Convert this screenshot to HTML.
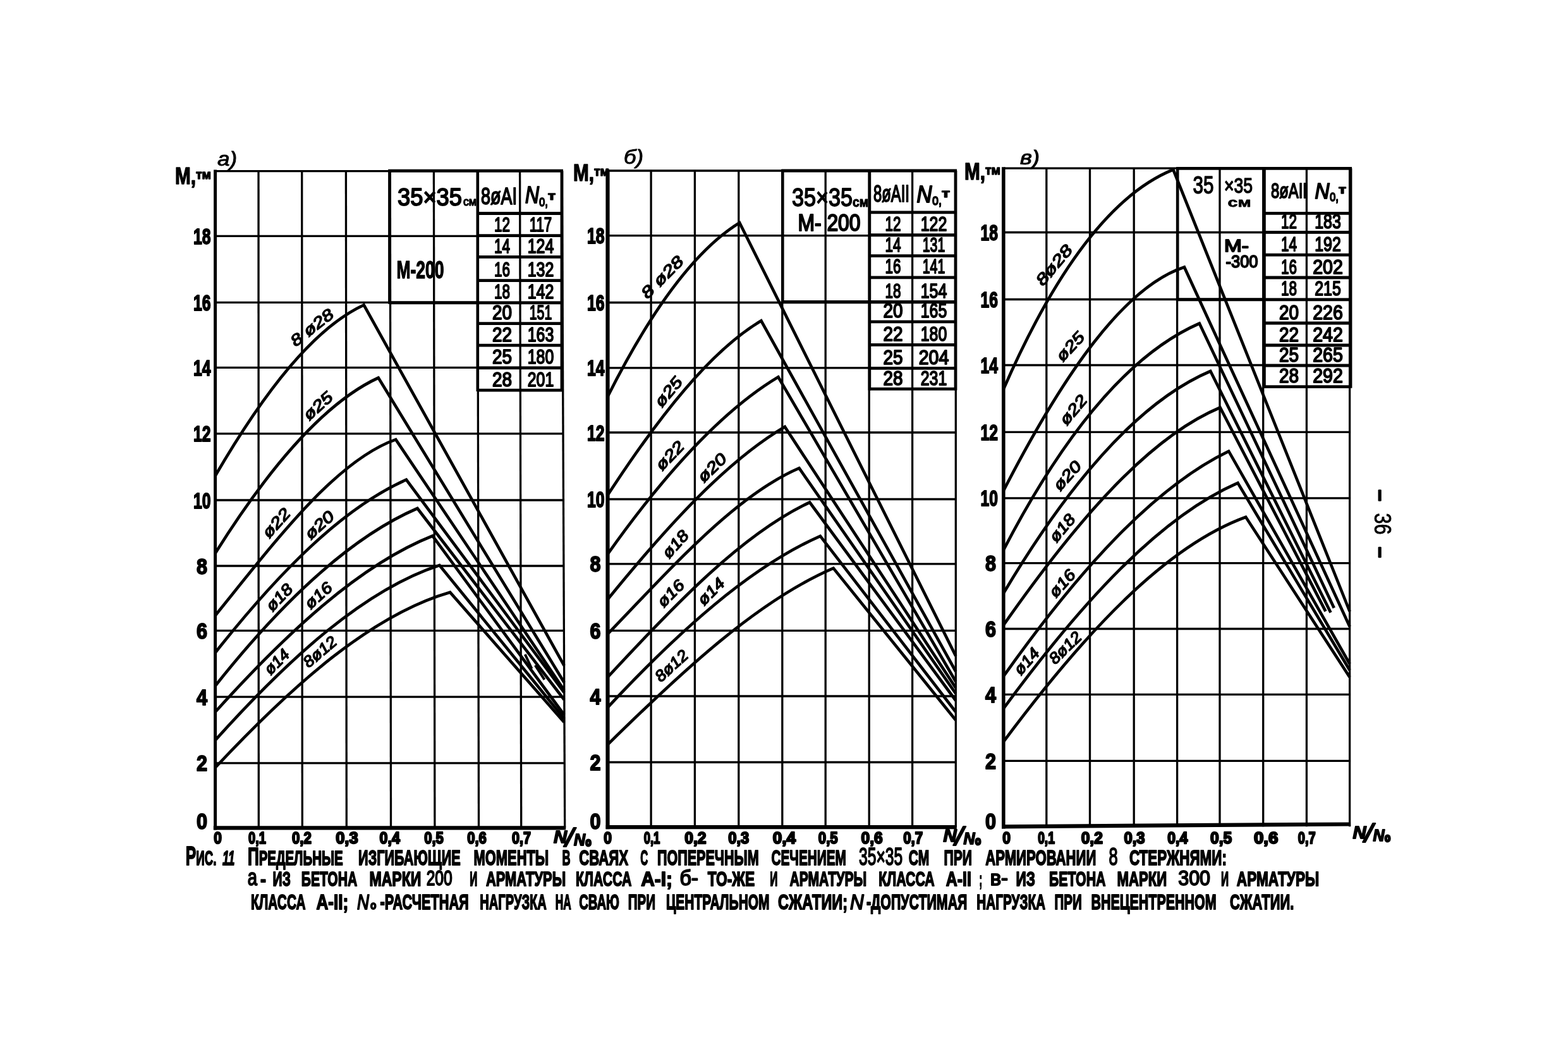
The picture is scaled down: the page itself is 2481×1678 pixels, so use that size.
<!DOCTYPE html>
<html lang="ru">
<head>
<meta charset="utf-8">
<title>Рис. 11 Предельные изгибающие моменты в сваях</title>
<style>
html,body{margin:0;padding:0;background:#fff;}
body{width:2481px;height:1678px;overflow:hidden;font-family:"Liberation Sans", "DejaVu Sans", sans-serif;}
svg{display:block;}
text{white-space:pre;}
</style>
</head>
<body>
<svg width="2481" height="1678" viewBox="0 0 2481 1678">
<g stroke="#000" fill="none">
<line x1="409.0" y1="269.6" x2="409.3" y2="1309.3" stroke-width="3.3" stroke-linecap="butt"/>
<line x1="477.7" y1="269.6" x2="478.3" y2="1309.3" stroke-width="3.3" stroke-linecap="butt"/>
<line x1="547.4" y1="269.6" x2="548.3" y2="1309.3" stroke-width="3.3" stroke-linecap="butt"/>
<line x1="617.3" y1="269.6" x2="618.5" y2="1309.3" stroke-width="3.3" stroke-linecap="butt"/>
<line x1="686.4" y1="269.6" x2="687.9" y2="1309.3" stroke-width="3.3" stroke-linecap="butt"/>
<line x1="755.7" y1="269.6" x2="757.5" y2="1309.3" stroke-width="3.3" stroke-linecap="butt"/>
<line x1="822.6" y1="269.6" x2="824.7" y2="1309.3" stroke-width="3.3" stroke-linecap="butt"/>
<line x1="889.2" y1="269.6" x2="893.7" y2="1309.3" stroke-width="3.3" stroke-linecap="butt"/>
<line x1="340.6" y1="1206.9" x2="893.3" y2="1206.9" stroke-width="3.3" stroke-linecap="butt"/>
<line x1="340.6" y1="1102.2" x2="892.8" y2="1102.2" stroke-width="3.3" stroke-linecap="butt"/>
<line x1="340.6" y1="997.3" x2="892.3" y2="997.3" stroke-width="3.3" stroke-linecap="butt"/>
<line x1="340.6" y1="895.0" x2="891.9" y2="895.0" stroke-width="3.3" stroke-linecap="butt"/>
<line x1="340.6" y1="791.0" x2="891.5" y2="791.0" stroke-width="3.3" stroke-linecap="butt"/>
<line x1="340.6" y1="685.8" x2="891.0" y2="685.8" stroke-width="3.3" stroke-linecap="butt"/>
<line x1="340.6" y1="581.4" x2="890.5" y2="581.4" stroke-width="3.3" stroke-linecap="butt"/>
<line x1="340.6" y1="478.3" x2="890.1" y2="478.3" stroke-width="3.3" stroke-linecap="butt"/>
<line x1="340.6" y1="373.3" x2="889.6" y2="373.3" stroke-width="3.3" stroke-linecap="butt"/>
<line x1="340.6" y1="270.6" x2="889.2" y2="270.6" stroke-width="3.3" stroke-linecap="butt"/>
<line x1="340.6" y1="268.6" x2="340.6" y2="1312.4" stroke-width="5.0" stroke-linecap="butt"/>
<line x1="337.8" y1="1309.3" x2="895.2" y2="1309.3" stroke-width="6.2" stroke-linecap="butt"/>
<path d="M340.6 752.5 C419.0 618.0 497.3 518.4 575.7 482.3 L892.6 1052.7" stroke-width="4.7" stroke-linejoin="miter" stroke-miterlimit="10"/>
<path d="M340.6 875.0 C426.6 737.9 512.7 637.1 598.7 597.5 L892.6 1079.3" stroke-width="4.7" stroke-linejoin="miter" stroke-miterlimit="10"/>
<path d="M340.6 973.4 C435.8 855.8 531.0 728.6 626.2 695.1 L892.6 1091.5" stroke-width="4.7" stroke-linejoin="miter" stroke-miterlimit="10"/>
<path d="M340.6 1032.2 C441.4 904.7 542.1 803.3 642.9 758.7 L892.6 1095.0" stroke-width="4.7" stroke-linejoin="miter" stroke-miterlimit="10"/>
<path d="M340.6 1084.7 C447.2 950.3 553.8 849.9 660.4 804.0 L892.6 1106.5" stroke-width="4.7" stroke-linejoin="miter" stroke-miterlimit="10"/>
<path d="M340.6 1126.0 C455.2 999.1 569.9 892.9 684.5 847.5 L892.6 1130.5" stroke-width="4.7" stroke-linejoin="miter" stroke-miterlimit="10"/>
<path d="M340.6 1170.6 C458.9 1039.3 577.1 932.5 695.4 893.9 L892.6 1136.6" stroke-width="4.7" stroke-linejoin="miter" stroke-miterlimit="10"/>
<path d="M340.6 1214.0 C464.4 1081.9 588.3 972.4 712.1 936.7 L892.6 1142.3" stroke-width="4.7" stroke-linejoin="miter" stroke-miterlimit="10"/>
<line x1="616.4" y1="268.2" x2="616.4" y2="480.8" stroke-width="4.6" stroke-linecap="butt"/>
<line x1="616.4" y1="478.8" x2="755.8" y2="478.8" stroke-width="5" stroke-linecap="butt"/>
<line x1="614.4" y1="270.2" x2="891.0" y2="270.2" stroke-width="4.8" stroke-linecap="butt"/>
<line x1="755.8" y1="270.2" x2="755.8" y2="619.1" stroke-width="4.6" stroke-linecap="butt"/>
<line x1="889.0" y1="270.2" x2="889.0" y2="619.1" stroke-width="4.8" stroke-linecap="butt"/>
<line x1="755.8" y1="337.5" x2="889.0" y2="337.5" stroke-width="4.8" stroke-linecap="butt"/>
<line x1="755.8" y1="372.7" x2="889.0" y2="372.7" stroke-width="4.8" stroke-linecap="butt"/>
<line x1="755.8" y1="406.3" x2="889.0" y2="406.3" stroke-width="4.8" stroke-linecap="butt"/>
<line x1="755.8" y1="443.6" x2="889.0" y2="443.6" stroke-width="4.8" stroke-linecap="butt"/>
<line x1="755.8" y1="478.8" x2="889.0" y2="478.8" stroke-width="4.8" stroke-linecap="butt"/>
<line x1="755.8" y1="511.7" x2="889.0" y2="511.7" stroke-width="4.8" stroke-linecap="butt"/>
<line x1="755.8" y1="546.1" x2="889.0" y2="546.1" stroke-width="4.8" stroke-linecap="butt"/>
<line x1="755.8" y1="581.9" x2="889.0" y2="581.9" stroke-width="4.8" stroke-linecap="butt"/>
<line x1="755.8" y1="617.1" x2="889.0" y2="617.1" stroke-width="4.8" stroke-linecap="butt"/>
<line x1="830.8" y1="1034.8" x2="841.4" y2="1057.5" stroke-width="4" stroke-linecap="butt"/>
<line x1="846.8" y1="1052.2" x2="861.5" y2="1074.9" stroke-width="4" stroke-linecap="butt"/>
<line x1="1030.1" y1="269.0" x2="1030.1" y2="1308.2" stroke-width="3.3" stroke-linecap="butt"/>
<line x1="1099.4" y1="269.0" x2="1099.4" y2="1308.2" stroke-width="3.3" stroke-linecap="butt"/>
<line x1="1168.8" y1="269.0" x2="1168.8" y2="1308.2" stroke-width="3.3" stroke-linecap="butt"/>
<line x1="1237.8" y1="269.0" x2="1237.8" y2="1308.2" stroke-width="3.3" stroke-linecap="butt"/>
<line x1="1306.2" y1="269.0" x2="1306.2" y2="1308.2" stroke-width="3.3" stroke-linecap="butt"/>
<line x1="1375.2" y1="269.0" x2="1375.2" y2="1308.2" stroke-width="3.3" stroke-linecap="butt"/>
<line x1="1443.6" y1="269.0" x2="1443.6" y2="1308.2" stroke-width="3.3" stroke-linecap="butt"/>
<line x1="1512.3" y1="269.0" x2="1512.3" y2="1308.2" stroke-width="3.3" stroke-linecap="butt"/>
<line x1="961.5" y1="1205.5" x2="1512.3" y2="1205.5" stroke-width="3.3" stroke-linecap="butt"/>
<line x1="961.5" y1="1101.0" x2="1512.3" y2="1101.0" stroke-width="3.3" stroke-linecap="butt"/>
<line x1="961.5" y1="997.4" x2="1512.3" y2="997.4" stroke-width="3.3" stroke-linecap="butt"/>
<line x1="961.5" y1="891.8" x2="1512.3" y2="891.8" stroke-width="3.3" stroke-linecap="butt"/>
<line x1="961.5" y1="789.5" x2="1512.3" y2="789.5" stroke-width="3.3" stroke-linecap="butt"/>
<line x1="961.5" y1="684.0" x2="1512.3" y2="684.0" stroke-width="3.3" stroke-linecap="butt"/>
<line x1="961.5" y1="581.8" x2="1512.3" y2="581.8" stroke-width="3.3" stroke-linecap="butt"/>
<line x1="961.5" y1="478.5" x2="1512.3" y2="478.5" stroke-width="3.3" stroke-linecap="butt"/>
<line x1="961.5" y1="372.6" x2="1512.3" y2="372.6" stroke-width="3.3" stroke-linecap="butt"/>
<line x1="961.5" y1="270.0" x2="1512.3" y2="270.0" stroke-width="3.3" stroke-linecap="butt"/>
<line x1="961.5" y1="268.0" x2="961.5" y2="1311.3" stroke-width="6.2" stroke-linecap="butt"/>
<line x1="958.7" y1="1308.2" x2="1513.8" y2="1308.2" stroke-width="6.2" stroke-linecap="butt"/>
<path d="M961.5 627.2 C1031.1 488.7 1100.6 395.1 1170.2 352.3 L1512.3 1037.5" stroke-width="4.7" stroke-linejoin="miter" stroke-miterlimit="10"/>
<path d="M961.5 783.0 C1042.5 659.0 1123.4 555.5 1204.4 507.3 L1512.3 1062.0" stroke-width="4.7" stroke-linejoin="miter" stroke-miterlimit="10"/>
<path d="M961.5 876.3 C1051.5 749.3 1141.4 650.1 1231.4 596.2 L1512.3 1078.0" stroke-width="4.7" stroke-linejoin="miter" stroke-miterlimit="10"/>
<path d="M961.5 947.9 C1054.9 833.2 1148.4 730.1 1241.8 675.0 L1512.3 1088.0" stroke-width="4.7" stroke-linejoin="miter" stroke-miterlimit="10"/>
<path d="M961.5 1002.7 C1062.5 897.9 1163.5 783.7 1264.5 740.4 L1512.3 1097.0" stroke-width="4.7" stroke-linejoin="miter" stroke-miterlimit="10"/>
<path d="M961.5 1071.0 C1068.1 955.9 1174.6 844.4 1281.2 794.5 L1512.3 1108.0" stroke-width="4.7" stroke-linejoin="miter" stroke-miterlimit="10"/>
<path d="M961.5 1118.8 C1073.6 998.8 1185.8 897.6 1297.9 847.8 L1512.3 1126.0" stroke-width="4.7" stroke-linejoin="miter" stroke-miterlimit="10"/>
<path d="M961.5 1177.6 C1080.5 1060.5 1199.6 949.8 1318.6 898.6 L1512.3 1139.0" stroke-width="4.7" stroke-linejoin="miter" stroke-miterlimit="10"/>
<line x1="1238.3" y1="268.0" x2="1238.3" y2="479.6" stroke-width="4.6" stroke-linecap="butt"/>
<line x1="1238.3" y1="477.6" x2="1375.9" y2="477.6" stroke-width="5" stroke-linecap="butt"/>
<line x1="1236.3" y1="270.0" x2="1514.0" y2="270.0" stroke-width="4.8" stroke-linecap="butt"/>
<line x1="1375.9" y1="270.0" x2="1375.9" y2="617.2" stroke-width="4.6" stroke-linecap="butt"/>
<line x1="1512.0" y1="270.0" x2="1512.0" y2="617.2" stroke-width="4.8" stroke-linecap="butt"/>
<line x1="1375.9" y1="335.8" x2="1512.0" y2="335.8" stroke-width="4.8" stroke-linecap="butt"/>
<line x1="1375.9" y1="371.7" x2="1512.0" y2="371.7" stroke-width="4.8" stroke-linecap="butt"/>
<line x1="1375.9" y1="404.6" x2="1512.0" y2="404.6" stroke-width="4.8" stroke-linecap="butt"/>
<line x1="1375.9" y1="438.9" x2="1512.0" y2="438.9" stroke-width="4.8" stroke-linecap="butt"/>
<line x1="1375.9" y1="477.4" x2="1512.0" y2="477.4" stroke-width="4.8" stroke-linecap="butt"/>
<line x1="1375.9" y1="508.9" x2="1512.0" y2="508.9" stroke-width="4.8" stroke-linecap="butt"/>
<line x1="1375.9" y1="545.3" x2="1512.0" y2="545.3" stroke-width="4.8" stroke-linecap="butt"/>
<line x1="1375.9" y1="582.4" x2="1512.0" y2="582.4" stroke-width="4.8" stroke-linecap="butt"/>
<line x1="1375.9" y1="615.2" x2="1512.0" y2="615.2" stroke-width="4.8" stroke-linecap="butt"/>
<line x1="1655.8" y1="265.2" x2="1655.8" y2="1307.3" stroke-width="3.3" stroke-linecap="butt"/>
<line x1="1724.5" y1="265.2" x2="1724.5" y2="1307.3" stroke-width="3.3" stroke-linecap="butt"/>
<line x1="1794.2" y1="265.2" x2="1794.2" y2="1307.3" stroke-width="3.3" stroke-linecap="butt"/>
<line x1="1862.6" y1="265.2" x2="1862.6" y2="1307.3" stroke-width="3.3" stroke-linecap="butt"/>
<line x1="1930.0" y1="265.2" x2="1930.0" y2="1307.3" stroke-width="3.3" stroke-linecap="butt"/>
<line x1="1998.7" y1="265.2" x2="1998.7" y2="1307.3" stroke-width="3.3" stroke-linecap="butt"/>
<line x1="2067.4" y1="265.2" x2="2067.4" y2="1307.3" stroke-width="3.3" stroke-linecap="butt"/>
<line x1="2135.6" y1="265.2" x2="2135.6" y2="1307.3" stroke-width="3.3" stroke-linecap="butt"/>
<line x1="1587.8" y1="1203.3" x2="2135.6" y2="1203.3" stroke-width="3.3" stroke-linecap="butt"/>
<line x1="1587.8" y1="1098.3" x2="2135.6" y2="1098.3" stroke-width="3.3" stroke-linecap="butt"/>
<line x1="1587.8" y1="994.5" x2="2135.6" y2="994.5" stroke-width="3.3" stroke-linecap="butt"/>
<line x1="1587.8" y1="890.7" x2="2135.6" y2="890.7" stroke-width="3.3" stroke-linecap="butt"/>
<line x1="1587.8" y1="787.8" x2="2135.6" y2="787.8" stroke-width="3.3" stroke-linecap="butt"/>
<line x1="1587.8" y1="683.4" x2="2135.6" y2="683.4" stroke-width="3.3" stroke-linecap="butt"/>
<line x1="1587.8" y1="577.5" x2="2135.6" y2="577.5" stroke-width="3.3" stroke-linecap="butt"/>
<line x1="1587.8" y1="473.5" x2="2135.6" y2="473.5" stroke-width="3.3" stroke-linecap="butt"/>
<line x1="1587.8" y1="367.5" x2="2135.6" y2="367.5" stroke-width="3.3" stroke-linecap="butt"/>
<line x1="1587.8" y1="266.2" x2="2135.6" y2="266.2" stroke-width="3.3" stroke-linecap="butt"/>
<line x1="1587.8" y1="264.2" x2="1587.8" y2="1310.4" stroke-width="5.6" stroke-linecap="butt"/>
<line x1="1585.0" y1="1307.3" x2="2137.1" y2="1303.5" stroke-width="6.2" stroke-linecap="butt"/>
<path d="M1587.8 615.6 C1677.3 410.4 1766.9 304.3 1856.4 268.3 L2135.6 967.0" stroke-width="4.7" stroke-linejoin="miter" stroke-miterlimit="10"/>
<path d="M1587.8 776.1 C1683.2 590.9 1778.5 453.7 1873.9 422.5 L2135.6 991.0" stroke-width="4.7" stroke-linejoin="miter" stroke-miterlimit="10"/>
<path d="M1587.8 869.9 C1691.1 670.8 1794.5 556.5 1897.8 511.5 L2110.8 961.5" stroke-width="4.7" stroke-linejoin="miter" stroke-miterlimit="10"/>
<path d="M1587.8 938.3 C1697.0 754.5 1806.1 633.3 1915.3 587.0 L2105.5 968.8" stroke-width="4.7" stroke-linejoin="miter" stroke-miterlimit="10"/>
<path d="M1587.8 988.6 C1702.1 825.4 1816.3 692.3 1930.6 644.5 L2097.5 966.8" stroke-width="4.7" stroke-linejoin="miter" stroke-miterlimit="10"/>
<path d="M1587.8 1069.7 C1706.6 902.3 1825.4 771.0 1944.2 713.7 L2135.6 1050.0" stroke-width="4.7" stroke-linejoin="miter" stroke-miterlimit="10"/>
<path d="M1587.8 1120.6 C1711.4 952.4 1834.9 817.8 1958.5 763.8 L2135.6 1060.0" stroke-width="4.7" stroke-linejoin="miter" stroke-miterlimit="10"/>
<path d="M1587.8 1173.1 C1715.6 1001.6 1843.4 864.3 1971.2 817.8 L2135.6 1071.0" stroke-width="4.7" stroke-linejoin="miter" stroke-miterlimit="10"/>
<line x1="1863.2" y1="264.3" x2="1863.2" y2="475.7" stroke-width="4.6" stroke-linecap="butt"/>
<line x1="1863.2" y1="473.7" x2="2000.5" y2="473.7" stroke-width="5" stroke-linecap="butt"/>
<line x1="1861.2" y1="266.3" x2="2139.0" y2="266.3" stroke-width="4.8" stroke-linecap="butt"/>
<line x1="2000.5" y1="266.3" x2="2000.5" y2="613.7" stroke-width="4.6" stroke-linecap="butt"/>
<line x1="2137.0" y1="266.3" x2="2137.0" y2="613.7" stroke-width="4.8" stroke-linecap="butt"/>
<line x1="2000.5" y1="337.3" x2="2137.0" y2="337.3" stroke-width="4.8" stroke-linecap="butt"/>
<line x1="2000.5" y1="367.3" x2="2137.0" y2="367.3" stroke-width="4.8" stroke-linecap="butt"/>
<line x1="2000.5" y1="403.2" x2="2137.0" y2="403.2" stroke-width="4.8" stroke-linecap="butt"/>
<line x1="2000.5" y1="439.0" x2="2137.0" y2="439.0" stroke-width="4.8" stroke-linecap="butt"/>
<line x1="2000.5" y1="473.9" x2="2137.0" y2="473.9" stroke-width="4.8" stroke-linecap="butt"/>
<line x1="2000.5" y1="511.0" x2="2137.0" y2="511.0" stroke-width="4.8" stroke-linecap="butt"/>
<line x1="2000.5" y1="546.0" x2="2137.0" y2="546.0" stroke-width="4.8" stroke-linecap="butt"/>
<line x1="2000.5" y1="578.2" x2="2137.0" y2="578.2" stroke-width="4.8" stroke-linecap="butt"/>
<line x1="2000.5" y1="611.7" x2="2137.0" y2="611.7" stroke-width="4.8" stroke-linecap="butt"/>
</g>
<g fill="#000" font-family='"Liberation Sans", "DejaVu Sans", sans-serif'>
<text x="319.5" y="1310.5" font-size="35" font-weight="bold" text-anchor="middle" textLength="17.0" lengthAdjust="spacingAndGlyphs" stroke="#000" stroke-width="2.0" stroke-linejoin="round">0</text>
<text x="319.5" y="1219.4" font-size="35" font-weight="bold" text-anchor="middle" textLength="17.0" lengthAdjust="spacingAndGlyphs" stroke="#000" stroke-width="2.0" stroke-linejoin="round">2</text>
<text x="319.5" y="1114.7" font-size="35" font-weight="bold" text-anchor="middle" textLength="17.0" lengthAdjust="spacingAndGlyphs" stroke="#000" stroke-width="2.0" stroke-linejoin="round">4</text>
<text x="319.5" y="1009.8" font-size="35" font-weight="bold" text-anchor="middle" textLength="17.0" lengthAdjust="spacingAndGlyphs" stroke="#000" stroke-width="2.0" stroke-linejoin="round">6</text>
<text x="319.5" y="907.5" font-size="35" font-weight="bold" text-anchor="middle" textLength="17.0" lengthAdjust="spacingAndGlyphs" stroke="#000" stroke-width="2.0" stroke-linejoin="round">8</text>
<text x="333.5" y="803.5" font-size="35" font-weight="bold" text-anchor="end" textLength="27.5" lengthAdjust="spacingAndGlyphs" stroke="#000" stroke-width="2.0" stroke-linejoin="round">10</text>
<text x="333.5" y="698.3" font-size="35" font-weight="bold" text-anchor="end" textLength="27.5" lengthAdjust="spacingAndGlyphs" stroke="#000" stroke-width="2.0" stroke-linejoin="round">12</text>
<text x="333.5" y="593.9" font-size="35" font-weight="bold" text-anchor="end" textLength="27.5" lengthAdjust="spacingAndGlyphs" stroke="#000" stroke-width="2.0" stroke-linejoin="round">14</text>
<text x="333.5" y="490.8" font-size="35" font-weight="bold" text-anchor="end" textLength="27.5" lengthAdjust="spacingAndGlyphs" stroke="#000" stroke-width="2.0" stroke-linejoin="round">16</text>
<text x="333.5" y="385.8" font-size="35" font-weight="bold" text-anchor="end" textLength="27.5" lengthAdjust="spacingAndGlyphs" stroke="#000" stroke-width="2.0" stroke-linejoin="round">18</text>
<text x="942.0" y="1310.5" font-size="35" font-weight="bold" text-anchor="middle" textLength="17.0" lengthAdjust="spacingAndGlyphs" stroke="#000" stroke-width="2.0" stroke-linejoin="round">0</text>
<text x="942.0" y="1218.0" font-size="35" font-weight="bold" text-anchor="middle" textLength="17.0" lengthAdjust="spacingAndGlyphs" stroke="#000" stroke-width="2.0" stroke-linejoin="round">2</text>
<text x="942.0" y="1113.5" font-size="35" font-weight="bold" text-anchor="middle" textLength="17.0" lengthAdjust="spacingAndGlyphs" stroke="#000" stroke-width="2.0" stroke-linejoin="round">4</text>
<text x="942.0" y="1009.9" font-size="35" font-weight="bold" text-anchor="middle" textLength="17.0" lengthAdjust="spacingAndGlyphs" stroke="#000" stroke-width="2.0" stroke-linejoin="round">6</text>
<text x="942.0" y="904.3" font-size="35" font-weight="bold" text-anchor="middle" textLength="17.0" lengthAdjust="spacingAndGlyphs" stroke="#000" stroke-width="2.0" stroke-linejoin="round">8</text>
<text x="956.5" y="802.0" font-size="35" font-weight="bold" text-anchor="end" textLength="27.5" lengthAdjust="spacingAndGlyphs" stroke="#000" stroke-width="2.0" stroke-linejoin="round">10</text>
<text x="956.5" y="696.5" font-size="35" font-weight="bold" text-anchor="end" textLength="27.5" lengthAdjust="spacingAndGlyphs" stroke="#000" stroke-width="2.0" stroke-linejoin="round">12</text>
<text x="956.5" y="594.3" font-size="35" font-weight="bold" text-anchor="end" textLength="27.5" lengthAdjust="spacingAndGlyphs" stroke="#000" stroke-width="2.0" stroke-linejoin="round">14</text>
<text x="956.5" y="491.0" font-size="35" font-weight="bold" text-anchor="end" textLength="27.5" lengthAdjust="spacingAndGlyphs" stroke="#000" stroke-width="2.0" stroke-linejoin="round">16</text>
<text x="956.5" y="385.1" font-size="35" font-weight="bold" text-anchor="end" textLength="27.5" lengthAdjust="spacingAndGlyphs" stroke="#000" stroke-width="2.0" stroke-linejoin="round">18</text>
<text x="1567.5" y="1310.5" font-size="35" font-weight="bold" text-anchor="middle" textLength="17.0" lengthAdjust="spacingAndGlyphs" stroke="#000" stroke-width="2.0" stroke-linejoin="round">0</text>
<text x="1567.5" y="1215.8" font-size="35" font-weight="bold" text-anchor="middle" textLength="17.0" lengthAdjust="spacingAndGlyphs" stroke="#000" stroke-width="2.0" stroke-linejoin="round">2</text>
<text x="1567.5" y="1110.8" font-size="35" font-weight="bold" text-anchor="middle" textLength="17.0" lengthAdjust="spacingAndGlyphs" stroke="#000" stroke-width="2.0" stroke-linejoin="round">4</text>
<text x="1567.5" y="1007.0" font-size="35" font-weight="bold" text-anchor="middle" textLength="17.0" lengthAdjust="spacingAndGlyphs" stroke="#000" stroke-width="2.0" stroke-linejoin="round">6</text>
<text x="1567.5" y="903.2" font-size="35" font-weight="bold" text-anchor="middle" textLength="17.0" lengthAdjust="spacingAndGlyphs" stroke="#000" stroke-width="2.0" stroke-linejoin="round">8</text>
<text x="1579.0" y="800.3" font-size="35" font-weight="bold" text-anchor="end" textLength="27.5" lengthAdjust="spacingAndGlyphs" stroke="#000" stroke-width="2.0" stroke-linejoin="round">10</text>
<text x="1579.0" y="695.9" font-size="35" font-weight="bold" text-anchor="end" textLength="27.5" lengthAdjust="spacingAndGlyphs" stroke="#000" stroke-width="2.0" stroke-linejoin="round">12</text>
<text x="1579.0" y="590.0" font-size="35" font-weight="bold" text-anchor="end" textLength="27.5" lengthAdjust="spacingAndGlyphs" stroke="#000" stroke-width="2.0" stroke-linejoin="round">14</text>
<text x="1579.0" y="486.0" font-size="35" font-weight="bold" text-anchor="end" textLength="27.5" lengthAdjust="spacingAndGlyphs" stroke="#000" stroke-width="2.0" stroke-linejoin="round">16</text>
<text x="1579.0" y="380.0" font-size="35" font-weight="bold" text-anchor="end" textLength="27.5" lengthAdjust="spacingAndGlyphs" stroke="#000" stroke-width="2.0" stroke-linejoin="round">18</text>
<text x="338.2" y="1334.0" font-size="26" font-weight="bold" textLength="12.6" lengthAdjust="spacingAndGlyphs" stroke="#000" stroke-width="2.4" stroke-linejoin="round">0</text>
<text x="393.1" y="1334.0" font-size="26" font-weight="bold" textLength="27.7" lengthAdjust="spacingAndGlyphs" stroke="#000" stroke-width="2.4" stroke-linejoin="round">0,1</text>
<text x="462.0" y="1334.0" font-size="26" font-weight="bold" textLength="30.8" lengthAdjust="spacingAndGlyphs" stroke="#000" stroke-width="2.4" stroke-linejoin="round">0,2</text>
<text x="531.2" y="1334.0" font-size="26" font-weight="bold" textLength="35.4" lengthAdjust="spacingAndGlyphs" stroke="#000" stroke-width="2.4" stroke-linejoin="round">0,3</text>
<text x="600.6" y="1334.0" font-size="26" font-weight="bold" textLength="32.2" lengthAdjust="spacingAndGlyphs" stroke="#000" stroke-width="2.4" stroke-linejoin="round">0,4</text>
<text x="671.2" y="1334.0" font-size="26" font-weight="bold" textLength="30.6" lengthAdjust="spacingAndGlyphs" stroke="#000" stroke-width="2.4" stroke-linejoin="round">0,5</text>
<text x="739.2" y="1334.0" font-size="26" font-weight="bold" textLength="30.6" lengthAdjust="spacingAndGlyphs" stroke="#000" stroke-width="2.4" stroke-linejoin="round">0,6</text>
<text x="810.0" y="1334.0" font-size="26" font-weight="bold" textLength="29.9" lengthAdjust="spacingAndGlyphs" stroke="#000" stroke-width="2.4" stroke-linejoin="round">0,7</text>
<text x="955.2" y="1334.0" font-size="26" font-weight="bold" textLength="12.7" lengthAdjust="spacingAndGlyphs" stroke="#000" stroke-width="2.4" stroke-linejoin="round">0</text>
<text x="1018.7" y="1334.0" font-size="26" font-weight="bold" textLength="25.6" lengthAdjust="spacingAndGlyphs" stroke="#000" stroke-width="2.4" stroke-linejoin="round">0,1</text>
<text x="1083.2" y="1334.0" font-size="26" font-weight="bold" textLength="34.3" lengthAdjust="spacingAndGlyphs" stroke="#000" stroke-width="2.4" stroke-linejoin="round">0,2</text>
<text x="1152.2" y="1334.0" font-size="26" font-weight="bold" textLength="33.0" lengthAdjust="spacingAndGlyphs" stroke="#000" stroke-width="2.4" stroke-linejoin="round">0,3</text>
<text x="1222.7" y="1334.0" font-size="26" font-weight="bold" textLength="36.3" lengthAdjust="spacingAndGlyphs" stroke="#000" stroke-width="2.4" stroke-linejoin="round">0,4</text>
<text x="1294.8" y="1334.0" font-size="26" font-weight="bold" textLength="30.9" lengthAdjust="spacingAndGlyphs" stroke="#000" stroke-width="2.4" stroke-linejoin="round">0,5</text>
<text x="1362.6" y="1334.0" font-size="26" font-weight="bold" textLength="34.1" lengthAdjust="spacingAndGlyphs" stroke="#000" stroke-width="2.4" stroke-linejoin="round">0,6</text>
<text x="1429.2" y="1334.0" font-size="26" font-weight="bold" textLength="31.0" lengthAdjust="spacingAndGlyphs" stroke="#000" stroke-width="2.4" stroke-linejoin="round">0,7</text>
<text x="1586.3" y="1334.0" font-size="26" font-weight="bold" textLength="12.7" lengthAdjust="spacingAndGlyphs" stroke="#000" stroke-width="2.4" stroke-linejoin="round">0</text>
<text x="1642.2" y="1334.0" font-size="26" font-weight="bold" textLength="26.7" lengthAdjust="spacingAndGlyphs" stroke="#000" stroke-width="2.4" stroke-linejoin="round">0,1</text>
<text x="1710.7" y="1334.0" font-size="26" font-weight="bold" textLength="34.1" lengthAdjust="spacingAndGlyphs" stroke="#000" stroke-width="2.4" stroke-linejoin="round">0,2</text>
<text x="1778.5" y="1334.0" font-size="26" font-weight="bold" textLength="33.1" lengthAdjust="spacingAndGlyphs" stroke="#000" stroke-width="2.4" stroke-linejoin="round">0,3</text>
<text x="1847.3" y="1334.0" font-size="26" font-weight="bold" textLength="32.0" lengthAdjust="spacingAndGlyphs" stroke="#000" stroke-width="2.4" stroke-linejoin="round">0,4</text>
<text x="1915.1" y="1334.0" font-size="26" font-weight="bold" textLength="34.1" lengthAdjust="spacingAndGlyphs" stroke="#000" stroke-width="2.4" stroke-linejoin="round">0,5</text>
<text x="1983.9" y="1334.0" font-size="26" font-weight="bold" textLength="38.5" lengthAdjust="spacingAndGlyphs" stroke="#000" stroke-width="2.4" stroke-linejoin="round">0,6</text>
<text x="2053.8" y="1334.0" font-size="26" font-weight="bold" textLength="27.8" lengthAdjust="spacingAndGlyphs" stroke="#000" stroke-width="2.4" stroke-linejoin="round">0,7</text>
<text x="875.9" y="1332.5" font-size="27" font-weight="bold" font-style="italic" textLength="21.0" lengthAdjust="spacingAndGlyphs" stroke="#000" stroke-width="1.8" stroke-linejoin="round">N</text>
<text x="894.4" y="1339.0" font-size="40" font-style="italic" textLength="13.0" lengthAdjust="spacingAndGlyphs" stroke="#000" stroke-width="2.2" stroke-linejoin="round">/</text>
<text x="907.9" y="1337.0" font-size="25" font-weight="bold" font-style="italic" textLength="18.0" lengthAdjust="spacingAndGlyphs" stroke="#000" stroke-width="1.8" stroke-linejoin="round">N</text>
<text x="926.4" y="1338.0" font-size="18" font-weight="bold" textLength="9.0" lengthAdjust="spacingAndGlyphs" stroke="#000" stroke-width="3.2" stroke-linejoin="round">о</text>
<text x="1492.6" y="1330.5" font-size="27" font-weight="bold" font-style="italic" textLength="21.0" lengthAdjust="spacingAndGlyphs" stroke="#000" stroke-width="1.8" stroke-linejoin="round">N</text>
<text x="1511.1" y="1337.0" font-size="40" font-style="italic" textLength="13.0" lengthAdjust="spacingAndGlyphs" stroke="#000" stroke-width="2.2" stroke-linejoin="round">/</text>
<text x="1524.6" y="1335.0" font-size="25" font-weight="bold" font-style="italic" textLength="18.0" lengthAdjust="spacingAndGlyphs" stroke="#000" stroke-width="1.8" stroke-linejoin="round">N</text>
<text x="1543.1" y="1336.0" font-size="18" font-weight="bold" textLength="9.0" lengthAdjust="spacingAndGlyphs" stroke="#000" stroke-width="3.2" stroke-linejoin="round">о</text>
<text x="2140.4" y="1325.5" font-size="27" font-weight="bold" font-style="italic" textLength="21.0" lengthAdjust="spacingAndGlyphs" stroke="#000" stroke-width="1.8" stroke-linejoin="round">N</text>
<text x="2158.9" y="1332.0" font-size="40" font-style="italic" textLength="13.0" lengthAdjust="spacingAndGlyphs" stroke="#000" stroke-width="2.2" stroke-linejoin="round">/</text>
<text x="2172.4" y="1330.0" font-size="25" font-weight="bold" font-style="italic" textLength="18.0" lengthAdjust="spacingAndGlyphs" stroke="#000" stroke-width="1.8" stroke-linejoin="round">N</text>
<text x="2190.9" y="1331.0" font-size="18" font-weight="bold" textLength="9.0" lengthAdjust="spacingAndGlyphs" stroke="#000" stroke-width="3.2" stroke-linejoin="round">о</text>
<text x="277.0" y="290.5" font-size="36" font-weight="bold" textLength="33.0" lengthAdjust="spacingAndGlyphs" stroke="#000" stroke-width="1.5" stroke-linejoin="round">М,</text>
<text x="310.0" y="282.5" font-size="21" font-weight="bold" textLength="24.0" lengthAdjust="spacingAndGlyphs" stroke="#000" stroke-width="1.5" stroke-linejoin="round">тм</text>
<text x="344.0" y="261.5" font-size="32" font-style="italic" textLength="31.0" lengthAdjust="spacingAndGlyphs" stroke="#000" stroke-width="1.0" stroke-linejoin="round">а)</text>
<text x="907.0" y="286.0" font-size="36" font-weight="bold" textLength="33.0" lengthAdjust="spacingAndGlyphs" stroke="#000" stroke-width="1.5" stroke-linejoin="round">М,</text>
<text x="940.0" y="278.0" font-size="21" font-weight="bold" textLength="24.0" lengthAdjust="spacingAndGlyphs" stroke="#000" stroke-width="1.5" stroke-linejoin="round">тм</text>
<text x="987.0" y="259.0" font-size="32" font-style="italic" textLength="31.0" lengthAdjust="spacingAndGlyphs" stroke="#000" stroke-width="1.0" stroke-linejoin="round">б)</text>
<text x="1526.0" y="284.0" font-size="36" font-weight="bold" textLength="33.0" lengthAdjust="spacingAndGlyphs" stroke="#000" stroke-width="1.5" stroke-linejoin="round">М,</text>
<text x="1559.0" y="276.0" font-size="21" font-weight="bold" textLength="24.0" lengthAdjust="spacingAndGlyphs" stroke="#000" stroke-width="1.5" stroke-linejoin="round">тм</text>
<text x="1614.0" y="260.0" font-size="32" font-style="italic" textLength="31.0" lengthAdjust="spacingAndGlyphs" stroke="#000" stroke-width="1.0" stroke-linejoin="round">в)</text>
<text x="467.7" y="549.0" font-size="25" font-style="italic" textLength="79.0" lengthAdjust="spacingAndGlyphs" stroke="#000" stroke-width="1.5" stroke-linejoin="round" transform="rotate(-38 467.7 549.0)">8 ø28</text>
<text x="489.0" y="666.0" font-size="25" font-style="italic" textLength="53.0" lengthAdjust="spacingAndGlyphs" stroke="#000" stroke-width="1.5" stroke-linejoin="round" transform="rotate(-42 489.0 666.0)">ø25</text>
<text x="425.8" y="852.5" font-size="25" font-style="italic" textLength="53.0" lengthAdjust="spacingAndGlyphs" stroke="#000" stroke-width="1.5" stroke-linejoin="round" transform="rotate(-48 425.8 852.5)">ø22</text>
<text x="491.4" y="854.4" font-size="25" font-style="italic" textLength="53.0" lengthAdjust="spacingAndGlyphs" stroke="#000" stroke-width="1.5" stroke-linejoin="round" transform="rotate(-42 491.4 854.4)">ø20</text>
<text x="431.0" y="968.3" font-size="25" font-style="italic" textLength="49.0" lengthAdjust="spacingAndGlyphs" stroke="#000" stroke-width="1.5" stroke-linejoin="round" transform="rotate(-46 431.0 968.3)">ø18</text>
<text x="491.3" y="964.4" font-size="25" font-style="italic" textLength="49.0" lengthAdjust="spacingAndGlyphs" stroke="#000" stroke-width="1.5" stroke-linejoin="round" transform="rotate(-42 491.3 964.4)">ø16</text>
<text x="428.0" y="1068.5" font-size="25" font-style="italic" textLength="45.0" lengthAdjust="spacingAndGlyphs" stroke="#000" stroke-width="1.5" stroke-linejoin="round" transform="rotate(-45 428.0 1068.5)">ø14</text>
<text x="488.3" y="1056.9" font-size="25" font-style="italic" textLength="61.0" lengthAdjust="spacingAndGlyphs" stroke="#000" stroke-width="1.5" stroke-linejoin="round" transform="rotate(-40 488.3 1056.9)">8ø12</text>
<text x="1024.5" y="473.7" font-size="25" font-style="italic" textLength="83.0" lengthAdjust="spacingAndGlyphs" stroke="#000" stroke-width="1.5" stroke-linejoin="round" transform="rotate(-45 1024.5 473.7)">8 ø28</text>
<text x="1047.1" y="645.5" font-size="25" font-style="italic" textLength="53.0" lengthAdjust="spacingAndGlyphs" stroke="#000" stroke-width="1.5" stroke-linejoin="round" transform="rotate(-50 1047.1 645.5)">ø25</text>
<text x="1047.6" y="745.6" font-size="25" font-style="italic" textLength="53.0" lengthAdjust="spacingAndGlyphs" stroke="#000" stroke-width="1.5" stroke-linejoin="round" transform="rotate(-46 1047.6 745.6)">ø22</text>
<text x="1113.5" y="764.2" font-size="25" font-style="italic" textLength="53.0" lengthAdjust="spacingAndGlyphs" stroke="#000" stroke-width="1.5" stroke-linejoin="round" transform="rotate(-44 1113.5 764.2)">ø20</text>
<text x="1058.6" y="884.4" font-size="25" font-style="italic" textLength="49.0" lengthAdjust="spacingAndGlyphs" stroke="#000" stroke-width="1.5" stroke-linejoin="round" transform="rotate(-48 1058.6 884.4)">ø18</text>
<text x="1050.1" y="961.7" font-size="25" font-style="italic" textLength="49.0" lengthAdjust="spacingAndGlyphs" stroke="#000" stroke-width="1.5" stroke-linejoin="round" transform="rotate(-45 1050.1 961.7)">ø16</text>
<text x="1113.7" y="958.7" font-size="25" font-style="italic" textLength="49.0" lengthAdjust="spacingAndGlyphs" stroke="#000" stroke-width="1.5" stroke-linejoin="round" transform="rotate(-45 1113.7 958.7)">ø14</text>
<text x="1045.4" y="1079.7" font-size="25" font-style="italic" textLength="61.0" lengthAdjust="spacingAndGlyphs" stroke="#000" stroke-width="1.5" stroke-linejoin="round" transform="rotate(-42 1045.4 1079.7)">8ø12</text>
<text x="1650.3" y="453.5" font-size="25" font-style="italic" textLength="75.0" lengthAdjust="spacingAndGlyphs" stroke="#000" stroke-width="1.5" stroke-linejoin="round" transform="rotate(-50 1650.3 453.5)">8ø28</text>
<text x="1681.6" y="573.3" font-size="25" font-style="italic" textLength="53.0" lengthAdjust="spacingAndGlyphs" stroke="#000" stroke-width="1.5" stroke-linejoin="round" transform="rotate(-47 1681.6 573.3)">ø25</text>
<text x="1687.7" y="674.1" font-size="25" font-style="italic" textLength="53.0" lengthAdjust="spacingAndGlyphs" stroke="#000" stroke-width="1.5" stroke-linejoin="round" transform="rotate(-50 1687.7 674.1)">ø22</text>
<text x="1677.3" y="777.7" font-size="25" font-style="italic" textLength="53.0" lengthAdjust="spacingAndGlyphs" stroke="#000" stroke-width="1.5" stroke-linejoin="round" transform="rotate(-48 1677.3 777.7)">ø20</text>
<text x="1671.4" y="859.3" font-size="25" font-style="italic" textLength="49.0" lengthAdjust="spacingAndGlyphs" stroke="#000" stroke-width="1.5" stroke-linejoin="round" transform="rotate(-50 1671.4 859.3)">ø18</text>
<text x="1670.6" y="946.4" font-size="25" font-style="italic" textLength="49.0" lengthAdjust="spacingAndGlyphs" stroke="#000" stroke-width="1.5" stroke-linejoin="round" transform="rotate(-48 1670.6 946.4)">ø16</text>
<text x="1614.9" y="1068.9" font-size="25" font-style="italic" textLength="47.0" lengthAdjust="spacingAndGlyphs" stroke="#000" stroke-width="1.5" stroke-linejoin="round" transform="rotate(-48 1614.9 1068.9)">ø14</text>
<text x="1669.4" y="1051.7" font-size="25" font-style="italic" textLength="61.0" lengthAdjust="spacingAndGlyphs" stroke="#000" stroke-width="1.5" stroke-linejoin="round" transform="rotate(-44 1669.4 1051.7)">8ø12</text>
<text x="794.5" y="366.2" font-size="32" text-anchor="middle" textLength="25.0" lengthAdjust="spacingAndGlyphs" stroke="#000" stroke-width="2.0" stroke-linejoin="round">12</text>
<text x="855.5" y="366.2" font-size="32" text-anchor="middle" textLength="35.5" lengthAdjust="spacingAndGlyphs" stroke="#000" stroke-width="2.0" stroke-linejoin="round">117</text>
<text x="794.5" y="399.8" font-size="32" text-anchor="middle" textLength="25.0" lengthAdjust="spacingAndGlyphs" stroke="#000" stroke-width="2.0" stroke-linejoin="round">14</text>
<text x="855.5" y="399.8" font-size="32" text-anchor="middle" textLength="41.5" lengthAdjust="spacingAndGlyphs" stroke="#000" stroke-width="2.0" stroke-linejoin="round">124</text>
<text x="794.5" y="437.1" font-size="32" text-anchor="middle" textLength="25.0" lengthAdjust="spacingAndGlyphs" stroke="#000" stroke-width="2.0" stroke-linejoin="round">16</text>
<text x="855.5" y="437.1" font-size="32" text-anchor="middle" textLength="41.5" lengthAdjust="spacingAndGlyphs" stroke="#000" stroke-width="2.0" stroke-linejoin="round">132</text>
<text x="794.5" y="472.3" font-size="32" text-anchor="middle" textLength="25.0" lengthAdjust="spacingAndGlyphs" stroke="#000" stroke-width="2.0" stroke-linejoin="round">18</text>
<text x="855.5" y="472.3" font-size="32" text-anchor="middle" textLength="41.5" lengthAdjust="spacingAndGlyphs" stroke="#000" stroke-width="2.0" stroke-linejoin="round">142</text>
<text x="794.5" y="505.2" font-size="32" text-anchor="middle" textLength="31.0" lengthAdjust="spacingAndGlyphs" stroke="#000" stroke-width="2.0" stroke-linejoin="round">20</text>
<text x="855.5" y="505.2" font-size="32" text-anchor="middle" textLength="35.5" lengthAdjust="spacingAndGlyphs" stroke="#000" stroke-width="2.0" stroke-linejoin="round">151</text>
<text x="794.5" y="539.6" font-size="32" text-anchor="middle" textLength="31.0" lengthAdjust="spacingAndGlyphs" stroke="#000" stroke-width="2.0" stroke-linejoin="round">22</text>
<text x="855.5" y="539.6" font-size="32" text-anchor="middle" textLength="41.5" lengthAdjust="spacingAndGlyphs" stroke="#000" stroke-width="2.0" stroke-linejoin="round">163</text>
<text x="794.5" y="575.4" font-size="32" text-anchor="middle" textLength="31.0" lengthAdjust="spacingAndGlyphs" stroke="#000" stroke-width="2.0" stroke-linejoin="round">25</text>
<text x="855.5" y="575.4" font-size="32" text-anchor="middle" textLength="41.5" lengthAdjust="spacingAndGlyphs" stroke="#000" stroke-width="2.0" stroke-linejoin="round">180</text>
<text x="794.5" y="610.6" font-size="32" text-anchor="middle" textLength="31.0" lengthAdjust="spacingAndGlyphs" stroke="#000" stroke-width="2.0" stroke-linejoin="round">28</text>
<text x="855.5" y="610.6" font-size="32" text-anchor="middle" textLength="41.5" lengthAdjust="spacingAndGlyphs" stroke="#000" stroke-width="2.0" stroke-linejoin="round">201</text>
<text x="1413.0" y="365.2" font-size="32" text-anchor="middle" textLength="25.0" lengthAdjust="spacingAndGlyphs" stroke="#000" stroke-width="2.0" stroke-linejoin="round">12</text>
<text x="1477.5" y="365.2" font-size="32" text-anchor="middle" textLength="41.5" lengthAdjust="spacingAndGlyphs" stroke="#000" stroke-width="2.0" stroke-linejoin="round">122</text>
<text x="1413.0" y="398.1" font-size="32" text-anchor="middle" textLength="25.0" lengthAdjust="spacingAndGlyphs" stroke="#000" stroke-width="2.0" stroke-linejoin="round">14</text>
<text x="1477.5" y="398.1" font-size="32" text-anchor="middle" textLength="35.5" lengthAdjust="spacingAndGlyphs" stroke="#000" stroke-width="2.0" stroke-linejoin="round">131</text>
<text x="1413.0" y="432.4" font-size="32" text-anchor="middle" textLength="25.0" lengthAdjust="spacingAndGlyphs" stroke="#000" stroke-width="2.0" stroke-linejoin="round">16</text>
<text x="1477.5" y="432.4" font-size="32" text-anchor="middle" textLength="35.5" lengthAdjust="spacingAndGlyphs" stroke="#000" stroke-width="2.0" stroke-linejoin="round">141</text>
<text x="1413.0" y="470.9" font-size="32" text-anchor="middle" textLength="25.0" lengthAdjust="spacingAndGlyphs" stroke="#000" stroke-width="2.0" stroke-linejoin="round">18</text>
<text x="1477.5" y="470.9" font-size="32" text-anchor="middle" textLength="41.5" lengthAdjust="spacingAndGlyphs" stroke="#000" stroke-width="2.0" stroke-linejoin="round">154</text>
<text x="1413.0" y="502.4" font-size="32" text-anchor="middle" textLength="31.0" lengthAdjust="spacingAndGlyphs" stroke="#000" stroke-width="2.0" stroke-linejoin="round">20</text>
<text x="1477.5" y="502.4" font-size="32" text-anchor="middle" textLength="41.5" lengthAdjust="spacingAndGlyphs" stroke="#000" stroke-width="2.0" stroke-linejoin="round">165</text>
<text x="1413.0" y="538.8" font-size="32" text-anchor="middle" textLength="31.0" lengthAdjust="spacingAndGlyphs" stroke="#000" stroke-width="2.0" stroke-linejoin="round">22</text>
<text x="1477.5" y="538.8" font-size="32" text-anchor="middle" textLength="41.5" lengthAdjust="spacingAndGlyphs" stroke="#000" stroke-width="2.0" stroke-linejoin="round">180</text>
<text x="1413.0" y="575.9" font-size="32" text-anchor="middle" textLength="31.0" lengthAdjust="spacingAndGlyphs" stroke="#000" stroke-width="2.0" stroke-linejoin="round">25</text>
<text x="1477.5" y="575.9" font-size="32" text-anchor="middle" textLength="47.5" lengthAdjust="spacingAndGlyphs" stroke="#000" stroke-width="2.0" stroke-linejoin="round">204</text>
<text x="1413.0" y="608.7" font-size="32" text-anchor="middle" textLength="31.0" lengthAdjust="spacingAndGlyphs" stroke="#000" stroke-width="2.0" stroke-linejoin="round">28</text>
<text x="1477.5" y="608.7" font-size="32" text-anchor="middle" textLength="41.5" lengthAdjust="spacingAndGlyphs" stroke="#000" stroke-width="2.0" stroke-linejoin="round">231</text>
<text x="2039.5" y="360.8" font-size="32" text-anchor="middle" textLength="25.0" lengthAdjust="spacingAndGlyphs" stroke="#000" stroke-width="2.0" stroke-linejoin="round">12</text>
<text x="2101.0" y="360.8" font-size="32" text-anchor="middle" textLength="41.5" lengthAdjust="spacingAndGlyphs" stroke="#000" stroke-width="2.0" stroke-linejoin="round">183</text>
<text x="2039.5" y="396.7" font-size="32" text-anchor="middle" textLength="25.0" lengthAdjust="spacingAndGlyphs" stroke="#000" stroke-width="2.0" stroke-linejoin="round">14</text>
<text x="2101.0" y="396.7" font-size="32" text-anchor="middle" textLength="41.5" lengthAdjust="spacingAndGlyphs" stroke="#000" stroke-width="2.0" stroke-linejoin="round">192</text>
<text x="2039.5" y="432.5" font-size="32" text-anchor="middle" textLength="25.0" lengthAdjust="spacingAndGlyphs" stroke="#000" stroke-width="2.0" stroke-linejoin="round">16</text>
<text x="2101.0" y="432.5" font-size="32" text-anchor="middle" textLength="47.5" lengthAdjust="spacingAndGlyphs" stroke="#000" stroke-width="2.0" stroke-linejoin="round">202</text>
<text x="2039.5" y="467.4" font-size="32" text-anchor="middle" textLength="25.0" lengthAdjust="spacingAndGlyphs" stroke="#000" stroke-width="2.0" stroke-linejoin="round">18</text>
<text x="2101.0" y="467.4" font-size="32" text-anchor="middle" textLength="41.5" lengthAdjust="spacingAndGlyphs" stroke="#000" stroke-width="2.0" stroke-linejoin="round">215</text>
<text x="2039.5" y="504.5" font-size="32" text-anchor="middle" textLength="31.0" lengthAdjust="spacingAndGlyphs" stroke="#000" stroke-width="2.0" stroke-linejoin="round">20</text>
<text x="2101.0" y="504.5" font-size="32" text-anchor="middle" textLength="47.5" lengthAdjust="spacingAndGlyphs" stroke="#000" stroke-width="2.0" stroke-linejoin="round">226</text>
<text x="2039.5" y="539.5" font-size="32" text-anchor="middle" textLength="31.0" lengthAdjust="spacingAndGlyphs" stroke="#000" stroke-width="2.0" stroke-linejoin="round">22</text>
<text x="2101.0" y="539.5" font-size="32" text-anchor="middle" textLength="47.5" lengthAdjust="spacingAndGlyphs" stroke="#000" stroke-width="2.0" stroke-linejoin="round">242</text>
<text x="2039.5" y="571.7" font-size="32" text-anchor="middle" textLength="31.0" lengthAdjust="spacingAndGlyphs" stroke="#000" stroke-width="2.0" stroke-linejoin="round">25</text>
<text x="2101.0" y="571.7" font-size="32" text-anchor="middle" textLength="47.5" lengthAdjust="spacingAndGlyphs" stroke="#000" stroke-width="2.0" stroke-linejoin="round">265</text>
<text x="2039.5" y="605.2" font-size="32" text-anchor="middle" textLength="31.0" lengthAdjust="spacingAndGlyphs" stroke="#000" stroke-width="2.0" stroke-linejoin="round">28</text>
<text x="2101.0" y="605.2" font-size="32" text-anchor="middle" textLength="47.5" lengthAdjust="spacingAndGlyphs" stroke="#000" stroke-width="2.0" stroke-linejoin="round">292</text>
<text x="629.0" y="324.5" font-size="39" textLength="102.0" lengthAdjust="spacingAndGlyphs" stroke="#000" stroke-width="2.0" stroke-linejoin="round">35×35</text>
<text x="733.0" y="325.0" font-size="18" textLength="21.0" lengthAdjust="spacingAndGlyphs" stroke="#000" stroke-width="1.4" stroke-linejoin="round">см</text>
<text x="627.5" y="440.0" font-size="39" font-weight="bold" textLength="75.0" lengthAdjust="spacingAndGlyphs" stroke="#000" stroke-width="1.5" stroke-linejoin="round">М-200</text>
<text x="761.0" y="322.5" font-size="37" textLength="57.0" lengthAdjust="spacingAndGlyphs" stroke="#000" stroke-width="2.0" stroke-linejoin="round">8øАI</text>
<text x="831.0" y="321.0" font-size="36" font-style="italic" textLength="22.0" lengthAdjust="spacingAndGlyphs" stroke="#000" stroke-width="2.0" stroke-linejoin="round">N</text>
<text x="853.0" y="326.0" font-size="24" textLength="14.0" lengthAdjust="spacingAndGlyphs" stroke="#000" stroke-width="2.0" stroke-linejoin="round">о,</text>
<text x="867.0" y="316.0" font-size="18" font-weight="bold" textLength="12.0" lengthAdjust="spacingAndGlyphs" stroke="#000" stroke-width="1.4" stroke-linejoin="round">т</text>
<text x="1253.0" y="326.0" font-size="41" textLength="96.0" lengthAdjust="spacingAndGlyphs" stroke="#000" stroke-width="1.8" stroke-linejoin="round">35×35</text>
<text x="1349.0" y="326.5" font-size="22" font-weight="bold" textLength="25.0" lengthAdjust="spacingAndGlyphs" stroke="#000" stroke-width="1.2" stroke-linejoin="round">см</text>
<text x="1262.5" y="364.5" font-size="37" textLength="99.0" lengthAdjust="spacingAndGlyphs" stroke="#000" stroke-width="2.2" stroke-linejoin="round">М- 200</text>
<text x="1382.0" y="319.0" font-size="36" textLength="57.0" lengthAdjust="spacingAndGlyphs" stroke="#000" stroke-width="2.0" stroke-linejoin="round">8øАII</text>
<text x="1450.5" y="319.5" font-size="36" font-style="italic" textLength="24.0" lengthAdjust="spacingAndGlyphs" stroke="#000" stroke-width="2.0" stroke-linejoin="round">N</text>
<text x="1475.0" y="324.0" font-size="24" textLength="15.0" lengthAdjust="spacingAndGlyphs" stroke="#000" stroke-width="2.0" stroke-linejoin="round">о,</text>
<text x="1490.0" y="312.0" font-size="19" font-weight="bold" textLength="13.0" lengthAdjust="spacingAndGlyphs" stroke="#000" stroke-width="1.4" stroke-linejoin="round">т</text>
<text x="1887.5" y="306.0" font-size="38" textLength="33.0" lengthAdjust="spacingAndGlyphs" stroke="#000" stroke-width="1.6" stroke-linejoin="round">35</text>
<text x="1937.0" y="305.0" font-size="34" textLength="45.0" lengthAdjust="spacingAndGlyphs" stroke="#000" stroke-width="1.6" stroke-linejoin="round">×35</text>
<text x="1942.5" y="326.5" font-size="21" font-weight="bold" textLength="37.0" lengthAdjust="spacingAndGlyphs" stroke="#000" stroke-width="0.8" stroke-linejoin="round">см</text>
<text x="1937.0" y="397.5" font-size="28" textLength="39.0" lengthAdjust="spacingAndGlyphs" stroke="#000" stroke-width="2.0" stroke-linejoin="round">М-</text>
<text x="1939.5" y="422.5" font-size="28" textLength="51.0" lengthAdjust="spacingAndGlyphs" stroke="#000" stroke-width="2.0" stroke-linejoin="round">-300</text>
<text x="2011.0" y="312.5" font-size="34" textLength="57.0" lengthAdjust="spacingAndGlyphs" stroke="#000" stroke-width="2.0" stroke-linejoin="round">8øАII</text>
<text x="2080.5" y="314.0" font-size="35" font-style="italic" textLength="23.0" lengthAdjust="spacingAndGlyphs" stroke="#000" stroke-width="2.0" stroke-linejoin="round">N</text>
<text x="2104.0" y="317.5" font-size="23" textLength="14.0" lengthAdjust="spacingAndGlyphs" stroke="#000" stroke-width="2.0" stroke-linejoin="round">о,</text>
<text x="2118.0" y="306.0" font-size="18" font-weight="bold" textLength="12.0" lengthAdjust="spacingAndGlyphs" stroke="#000" stroke-width="1.4" stroke-linejoin="round">т</text>
<text x="2175.2" y="775.5" font-size="34" textLength="16.0" lengthAdjust="spacingAndGlyphs" stroke="#000" stroke-width="3.0" stroke-linejoin="round" transform="rotate(90 2175.2 775.5)">–</text>
<text x="2175.3" y="811.5" font-size="36" textLength="34.0" lengthAdjust="spacingAndGlyphs" stroke="#000" stroke-width="1.0" stroke-linejoin="round" transform="rotate(90 2175.3 811.5)">36</text>
<text x="2175.2" y="866.0" font-size="34" textLength="15.0" lengthAdjust="spacingAndGlyphs" stroke="#000" stroke-width="3.0" stroke-linejoin="round" transform="rotate(90 2175.2 866.0)">–</text>
<text x="293.8" y="1367.8" font-size="31.5" font-weight="bold" textLength="48.5" lengthAdjust="spacingAndGlyphs" stroke="#000" stroke-width="1.9" stroke-linejoin="round"><tspan font-size="42">Р</tspan>ИС.</text>
<text x="351.9" y="1367.8" font-size="31.5" font-weight="bold" font-style="italic" textLength="19.4" lengthAdjust="spacingAndGlyphs" stroke="#000" stroke-width="1.9" stroke-linejoin="round">11</text>
<text x="391.9" y="1367.8" font-size="31.5" font-weight="bold" textLength="150.7" lengthAdjust="spacingAndGlyphs" stroke="#000" stroke-width="1.9" stroke-linejoin="round"><tspan font-size="38">П</tspan>РЕДЕЛЬНЫЕ</text>
<text x="567.1" y="1367.8" font-size="33.5" font-weight="bold" textLength="161.7" lengthAdjust="spacingAndGlyphs" stroke="#000" stroke-width="1.9" stroke-linejoin="round">ИЗГИБАЮЩИЕ</text>
<text x="749.6" y="1367.8" font-size="33.5" font-weight="bold" textLength="118.6" lengthAdjust="spacingAndGlyphs" stroke="#000" stroke-width="1.9" stroke-linejoin="round">МОМЕНТЫ</text>
<text x="889.5" y="1367.8" font-size="33.5" font-weight="bold" textLength="13.1" lengthAdjust="spacingAndGlyphs" stroke="#000" stroke-width="1.9" stroke-linejoin="round">В</text>
<text x="916.2" y="1367.8" font-size="33.5" font-weight="bold" textLength="77.8" lengthAdjust="spacingAndGlyphs" stroke="#000" stroke-width="1.9" stroke-linejoin="round">СВАЯХ</text>
<text x="1013.2" y="1367.8" font-size="33.5" font-weight="bold" textLength="12.0" lengthAdjust="spacingAndGlyphs" stroke="#000" stroke-width="1.9" stroke-linejoin="round">С</text>
<text x="1040.0" y="1367.8" font-size="33.5" font-weight="bold" textLength="160.6" lengthAdjust="spacingAndGlyphs" stroke="#000" stroke-width="1.9" stroke-linejoin="round">ПОПЕРЕЧНЫМ</text>
<text x="1220.4" y="1367.8" font-size="33.5" font-weight="bold" textLength="118.5" lengthAdjust="spacingAndGlyphs" stroke="#000" stroke-width="1.9" stroke-linejoin="round">СЕЧЕНИЕМ</text>
<text x="1359.1" y="1367.8" font-size="38" textLength="69.0" lengthAdjust="spacingAndGlyphs" stroke="#000" stroke-width="2.0" stroke-linejoin="round">35×35</text>
<text x="1437.7" y="1367.8" font-size="33.5" font-weight="bold" textLength="32.5" lengthAdjust="spacingAndGlyphs" stroke="#000" stroke-width="1.9" stroke-linejoin="round">СМ</text>
<text x="1493.5" y="1367.8" font-size="33.5" font-weight="bold" textLength="44.4" lengthAdjust="spacingAndGlyphs" stroke="#000" stroke-width="1.9" stroke-linejoin="round">ПРИ</text>
<text x="1559.2" y="1367.8" font-size="33.5" font-weight="bold" textLength="175.2" lengthAdjust="spacingAndGlyphs" stroke="#000" stroke-width="1.9" stroke-linejoin="round">АРМИРОВАНИИ</text>
<text x="1754.6" y="1367.8" font-size="38" textLength="14.1" lengthAdjust="spacingAndGlyphs" stroke="#000" stroke-width="2.0" stroke-linejoin="round">8</text>
<text x="1786.9" y="1367.8" font-size="33.5" font-weight="bold" textLength="154.0" lengthAdjust="spacingAndGlyphs" stroke="#000" stroke-width="1.9" stroke-linejoin="round">СТЕРЖНЯМИ:</text>
<text x="391.8" y="1400.4" font-size="36" textLength="15.2" lengthAdjust="spacingAndGlyphs" stroke="#000" stroke-width="2.0" stroke-linejoin="round">а</text>
<text x="412.1" y="1400.5" font-size="32" font-weight="bold" textLength="8.9" lengthAdjust="spacingAndGlyphs" stroke="#000" stroke-width="1.9" stroke-linejoin="round">-</text>
<text x="431.6" y="1400.5" font-size="32" font-weight="bold" textLength="28.2" lengthAdjust="spacingAndGlyphs" stroke="#000" stroke-width="1.9" stroke-linejoin="round">ИЗ</text>
<text x="476.8" y="1400.5" font-size="32" font-weight="bold" textLength="88.4" lengthAdjust="spacingAndGlyphs" stroke="#000" stroke-width="1.9" stroke-linejoin="round">БЕТОНА</text>
<text x="584.4" y="1400.5" font-size="32" font-weight="bold" textLength="82.0" lengthAdjust="spacingAndGlyphs" stroke="#000" stroke-width="1.9" stroke-linejoin="round">МАРКИ</text>
<text x="674.7" y="1400.4" font-size="33" textLength="41.0" lengthAdjust="spacingAndGlyphs" stroke="#000" stroke-width="2.0" stroke-linejoin="round">200</text>
<text x="743.2" y="1400.5" font-size="32" font-weight="bold" textLength="12.0" lengthAdjust="spacingAndGlyphs" stroke="#000" stroke-width="1.9" stroke-linejoin="round">И</text>
<text x="769.0" y="1400.5" font-size="32" font-weight="bold" textLength="126.1" lengthAdjust="spacingAndGlyphs" stroke="#000" stroke-width="1.9" stroke-linejoin="round">АРМАТУРЫ</text>
<text x="911.0" y="1400.5" font-size="32" font-weight="bold" textLength="88.4" lengthAdjust="spacingAndGlyphs" stroke="#000" stroke-width="1.9" stroke-linejoin="round">КЛАССА</text>
<text x="1014.2" y="1400.5" font-size="32" font-weight="bold" textLength="49.8" lengthAdjust="spacingAndGlyphs" stroke="#000" stroke-width="1.9" stroke-linejoin="round">А-I;</text>
<text x="1075.5" y="1400.4" font-size="33" textLength="29.2" lengthAdjust="spacingAndGlyphs" stroke="#000" stroke-width="2.0" stroke-linejoin="round">б-</text>
<text x="1119.7" y="1400.5" font-size="32" font-weight="bold" textLength="74.4" lengthAdjust="spacingAndGlyphs" stroke="#000" stroke-width="1.9" stroke-linejoin="round">ТО-ЖЕ</text>
<text x="1218.2" y="1400.5" font-size="32" font-weight="bold" textLength="12.1" lengthAdjust="spacingAndGlyphs" stroke="#000" stroke-width="1.9" stroke-linejoin="round">И</text>
<text x="1249.4" y="1400.5" font-size="32" font-weight="bold" textLength="121.8" lengthAdjust="spacingAndGlyphs" stroke="#000" stroke-width="1.9" stroke-linejoin="round">АРМАТУРЫ</text>
<text x="1390.2" y="1400.5" font-size="32" font-weight="bold" textLength="88.5" lengthAdjust="spacingAndGlyphs" stroke="#000" stroke-width="1.9" stroke-linejoin="round">КЛАССА</text>
<text x="1496.8" y="1400.5" font-size="32" font-weight="bold" textLength="40.1" lengthAdjust="spacingAndGlyphs" stroke="#000" stroke-width="1.9" stroke-linejoin="round">А-II</text>
<text x="1549.5" y="1400.5" font-size="32" font-weight="bold" textLength="4.6" lengthAdjust="spacingAndGlyphs" stroke="#000" stroke-width="1.9" stroke-linejoin="round">;</text>
<text x="1566.7" y="1400.4" font-size="33" textLength="28.2" lengthAdjust="spacingAndGlyphs" stroke="#000" stroke-width="2.0" stroke-linejoin="round">в-</text>
<text x="1607.5" y="1400.5" font-size="32" font-weight="bold" textLength="30.4" lengthAdjust="spacingAndGlyphs" stroke="#000" stroke-width="1.9" stroke-linejoin="round">ИЗ</text>
<text x="1660.0" y="1400.5" font-size="32" font-weight="bold" textLength="89.5" lengthAdjust="spacingAndGlyphs" stroke="#000" stroke-width="1.9" stroke-linejoin="round">БЕТОНА</text>
<text x="1767.5" y="1400.5" font-size="32" font-weight="bold" textLength="78.8" lengthAdjust="spacingAndGlyphs" stroke="#000" stroke-width="1.9" stroke-linejoin="round">МАРКИ</text>
<text x="1864.3" y="1400.4" font-size="33" textLength="50.7" lengthAdjust="spacingAndGlyphs" stroke="#000" stroke-width="2.0" stroke-linejoin="round">300</text>
<text x="1932.0" y="1400.5" font-size="32" font-weight="bold" textLength="12.1" lengthAdjust="spacingAndGlyphs" stroke="#000" stroke-width="1.9" stroke-linejoin="round">И</text>
<text x="1956.8" y="1400.5" font-size="32" font-weight="bold" textLength="130.4" lengthAdjust="spacingAndGlyphs" stroke="#000" stroke-width="1.9" stroke-linejoin="round">АРМАТУРЫ</text>
<text x="397.1" y="1438.0" font-size="33.5" font-weight="bold" textLength="86.3" lengthAdjust="spacingAndGlyphs" stroke="#000" stroke-width="1.9" stroke-linejoin="round">КЛАССА</text>
<text x="500.4" y="1438.0" font-size="33.5" font-weight="bold" textLength="50.8" lengthAdjust="spacingAndGlyphs" stroke="#000" stroke-width="1.9" stroke-linejoin="round">А-II;</text>
<text x="565.0" y="1438.0" font-size="33.5" font-style="italic" textLength="19.0" lengthAdjust="spacingAndGlyphs" stroke="#000" stroke-width="2.0" stroke-linejoin="round">N</text>
<text x="586.0" y="1438.0" font-size="18" font-weight="bold" textLength="9.4" lengthAdjust="spacingAndGlyphs" stroke="#000" stroke-width="1.9" stroke-linejoin="round">о</text>
<text x="601.6" y="1438.0" font-size="33.5" font-weight="bold" textLength="140.1" lengthAdjust="spacingAndGlyphs" stroke="#000" stroke-width="1.9" stroke-linejoin="round">-РАСЧЕТНАЯ</text>
<text x="759.2" y="1438.0" font-size="33.5" font-weight="bold" textLength="105.7" lengthAdjust="spacingAndGlyphs" stroke="#000" stroke-width="1.9" stroke-linejoin="round">НАГРУЗКА</text>
<text x="878.7" y="1438.0" font-size="33.5" font-weight="bold" textLength="25.0" lengthAdjust="spacingAndGlyphs" stroke="#000" stroke-width="1.9" stroke-linejoin="round">НА</text>
<text x="916.2" y="1438.0" font-size="33.5" font-weight="bold" textLength="63.8" lengthAdjust="spacingAndGlyphs" stroke="#000" stroke-width="1.9" stroke-linejoin="round">СВАЮ</text>
<text x="993.8" y="1438.0" font-size="33.5" font-weight="bold" textLength="43.3" lengthAdjust="spacingAndGlyphs" stroke="#000" stroke-width="1.9" stroke-linejoin="round">ПРИ</text>
<text x="1054.0" y="1438.0" font-size="33.5" font-weight="bold" textLength="163.6" lengthAdjust="spacingAndGlyphs" stroke="#000" stroke-width="1.9" stroke-linejoin="round">ЦЕНТРАЛЬНОМ</text>
<text x="1231.0" y="1438.0" font-size="33.5" font-weight="bold" textLength="110.0" lengthAdjust="spacingAndGlyphs" stroke="#000" stroke-width="1.9" stroke-linejoin="round">СЖАТИИ;</text>
<text x="1345.1" y="1438.0" font-size="33.5" font-style="italic" textLength="21.7" lengthAdjust="spacingAndGlyphs" stroke="#000" stroke-width="2.0" stroke-linejoin="round">N</text>
<text x="1371.0" y="1438.0" font-size="33.5" font-weight="bold" textLength="159.4" lengthAdjust="spacingAndGlyphs" stroke="#000" stroke-width="1.9" stroke-linejoin="round">-ДОПУСТИМАЯ</text>
<text x="1545.2" y="1438.0" font-size="33.5" font-weight="bold" textLength="108.9" lengthAdjust="spacingAndGlyphs" stroke="#000" stroke-width="1.9" stroke-linejoin="round">НАГРУЗКА</text>
<text x="1668.5" y="1438.0" font-size="33.5" font-weight="bold" textLength="43.3" lengthAdjust="spacingAndGlyphs" stroke="#000" stroke-width="1.9" stroke-linejoin="round">ПРИ</text>
<text x="1726.5" y="1438.0" font-size="33.5" font-weight="bold" textLength="198.2" lengthAdjust="spacingAndGlyphs" stroke="#000" stroke-width="1.9" stroke-linejoin="round">ВНЕЦЕНТРЕННОМ</text>
<text x="1946.0" y="1438.0" font-size="33.5" font-weight="bold" textLength="101.3" lengthAdjust="spacingAndGlyphs" stroke="#000" stroke-width="1.9" stroke-linejoin="round">СЖАТИИ.</text>
</g>
</svg>
</body>
</html>
